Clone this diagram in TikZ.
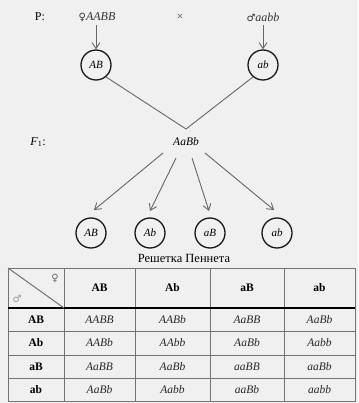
\documentclass[tikz,border=0pt]{standalone}
\usepackage{fontspec}
\setmainfont{Liberation Serif}
\newfontfamily\symfont{DejaVu Sans}
\usetikzlibrary{arrows.meta}
\begin{document}
\begin{tikzpicture}[x=1pt,y=-1pt,
 gam/.style={circle,draw=black!90,line width=1.3pt,minimum size=30pt,inner sep=0pt,font=\itshape\fontsize{11}{12}\selectfont},
 lbl/.style={font=\fontsize{12}{14}\selectfont},
 conn/.style={draw=black!60,line width=0.9pt},
 arr/.style={conn,-{Straight Barb[length=6pt,width=8pt]}},
 gridline/.style={draw=black!55,line width=0.8pt},
 hd/.style={font=\bfseries\fontsize{11.5}{13}\selectfont},
 cell/.style={font=\itshape\fontsize{11.5}{13}\selectfont,text=black!85}]
\fill[black!6] (0,0) rectangle (358,403);
\useasboundingbox (0,0) rectangle (358,403);
% parents
\node[lbl] (P) at (40,17) {P:};
\node[lbl,text=black!80] (pf) at (97,17) {{\symfont\fontsize{10}{11}\selectfont ♀}\textit{AABB}};
\node[lbl,text=black!70] (cross) at (180,17) {×};
\node[lbl,text=black!80] (pm) at (263,17) {{\symfont\fontsize{10}{11}\selectfont ♂}\textit{aabb}};
\node[gam] (g1) at (96,65) {AB};
\node[gam] (g2) at (263,65) {ab};
\draw[arr] (pf.south -| g1) -- (g1.north);
\draw[arr] (pm.south -| g2) -- (g2.north);
% F1
\node[lbl] (F1) at (38,142) {\textit{F}\textsubscript{1}:};
\node[lbl,font=\itshape\fontsize{11.5}{13}\selectfont] (f1) at (186,142) {AaBb};
\coordinate (join) at (186,129);
\draw[conn] (g1.-50) -- (join) -- (g2.-130);
% gametes F1
\node[gam] (h1) at (91,233) {AB};
\node[gam] (h2) at (150,233) {Ab};
\node[gam] (h3) at (210,233) {aB};
\node[gam] (h4) at (277,233) {ab};
\coordinate (s1) at (163,153);
\coordinate (s2) at (176,158);
\coordinate (s3) at (192,158);
\coordinate (s4) at (205,153);
\coordinate (e1) at (94,210);
\coordinate (e2) at (150,211);
\coordinate (e3) at (209,211);
\coordinate (e4) at (274,210);
\draw[arr] (s1) -- (e1);
\draw[arr] (s2) -- (e2);
\draw[arr] (s3) -- (e3);
\draw[arr] (s4) -- (e4);
% title
\node[lbl,font=\fontsize{12.5}{14}\selectfont] (title) at (184,258) {Решетка Пеннета};
% table grid
\draw[gridline] (8,268) rectangle (355,401);
\foreach \x in {64,135,210,284} \draw[gridline] (\x,268) -- (\x,401);
\foreach \y in {331,355,378} \draw[gridline] (8,\y) -- (355,\y);
\draw[black,line width=1.5pt] (8,308) -- (355,308);
\draw[gridline,line width=1pt] (8,268) -- (64,308);
\node[text=black!60,font=\symfont\fontsize{10}{11}\selectfont] (fem) at (55,278) {♀};
\node[text=black!40,font=\symfont\fontsize{10}{11}\selectfont] (mal) at (17,299) {♂};
% header
\node[hd] (c1) at (99.5,288) {AB};
\node[hd] (c2) at (172.5,288) {Ab};
\node[hd] (c3) at (247,288) {aB};
\node[hd] (c4) at (319.5,288) {ab};
\node[hd] (r1) at (36,319.5) {AB};
\node[hd] (r2) at (36,343) {Ab};
\node[hd] (r3) at (36,366.5) {aB};
\node[hd] (r4) at (36,389.5) {ab};
% cells
\node[cell] at (99.5,319.5) {AABB};
\node[cell] at (172.5,319.5) {AABb};
\node[cell] at (247,319.5) {AaBB};
\node[cell] at (319.5,319.5) {AaBb};
\node[cell] at (99.5,343) {AABb};
\node[cell] at (172.5,343) {AAbb};
\node[cell] at (247,343) {AaBb};
\node[cell] at (319.5,343) {Aabb};
\node[cell] at (99.5,366.5) {AaBB};
\node[cell] at (172.5,366.5) {AaBb};
\node[cell] at (247,366.5) {aaBB};
\node[cell] at (319.5,366.5) {aaBb};
\node[cell] at (99.5,389.5) {AaBb};
\node[cell] at (172.5,389.5) {Aabb};
\node[cell] at (247,389.5) {aaBb};
\node[cell] at (319.5,389.5) {aabb};
\end{tikzpicture}
\end{document}
